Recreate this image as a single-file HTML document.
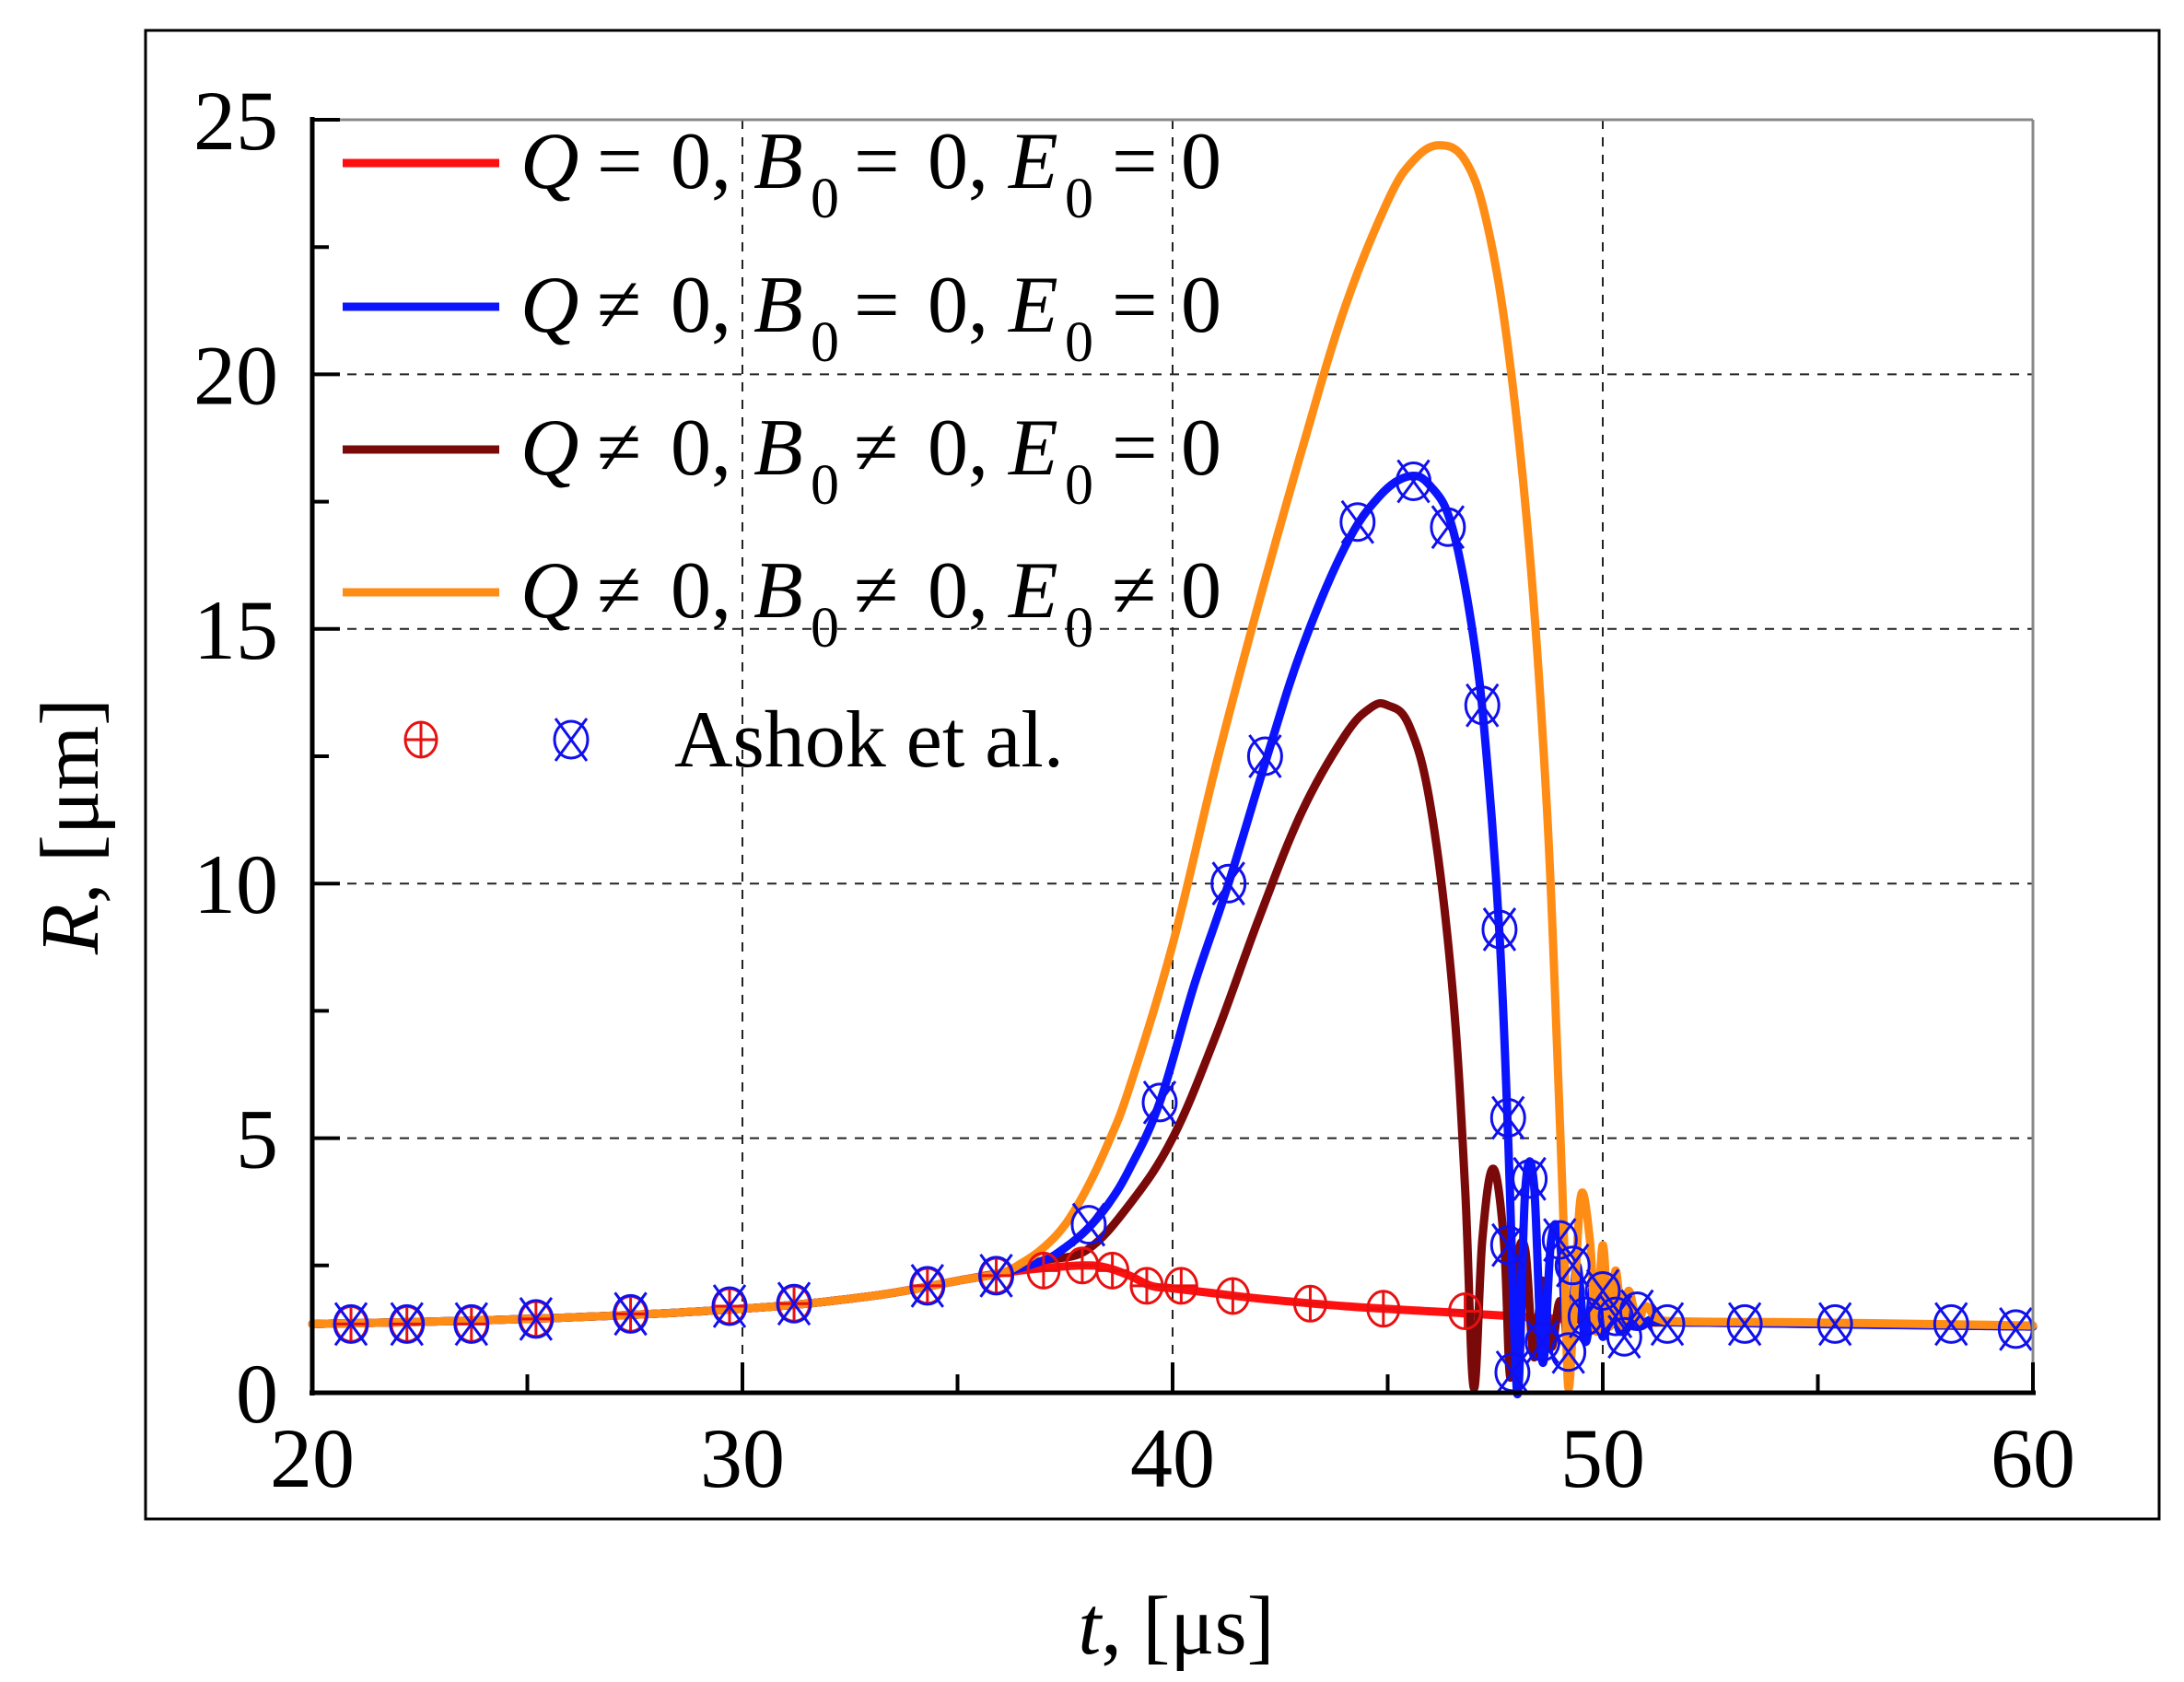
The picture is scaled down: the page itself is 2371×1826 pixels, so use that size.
<!DOCTYPE html>
<html><head><meta charset="utf-8"><style>
html,body{margin:0;padding:0;background:#fff}
svg{display:block}
text{font-family:"Liberation Serif",serif;fill:#000}
</style></head><body>
<svg id="chart" width="2371" height="1826" viewBox="0 0 2371 1826" xmlns="http://www.w3.org/2000/svg">
<rect x="158" y="33" width="2186" height="1616" fill="#fff" stroke="#000" stroke-width="3"/>
<g id="grid"></g>
<g id="series"></g>
<g id="markers"></g>
<g id="axes"></g>
<g id="legend"></g>
<text transform="translate(106,897) rotate(-90)" text-anchor="middle" font-size="90"><tspan font-style="italic">R</tspan>, [μm]</text>
<text x="1277" y="1795" text-anchor="middle" font-size="90"><tspan font-style="italic">t</tspan>, [μs]</text>
</svg>
<script>
const xTicks=[20,30,40,50,60];
const yTicks=[0,5,10,15,20,25];
const baseT=[20,25,30,33,35,36,37];
const baseR=[1.35,1.45,1.65,1.9,2.2,2.35,2.6];
const redT=[20,25,30,33,35,36,37,38,38.5,39,39.5,40,41,42,44,46,48,49,50,52,60];
const redR=[1.35,1.45,1.65,1.9,2.2,2.35,2.45,2.5,2.45,2.3,2.1,2.05,1.95,1.85,1.7,1.6,1.5,1.45,1.42,1.38,1.3];
const blueT=[37,37.5,38,38.5,39,39.7,40.5,41.3,42.2,43,44,44.8,45.5,46,46.5,47,47.3,47.6,47.8,47.95,48.05,48.2,48.4,48.6,48.8,49.0,49.2,49.4,49.6,49.8,50.0,50.2,50.4,50.6,50.8,51.2,52,60];
const blueR=[2.6,2.85,3.2,3.7,4.4,5.7,8.0,10.0,12.5,14.6,16.6,17.6,18.0,17.8,17.0,14.8,12.5,9,5,1.0,0.2,4.0,4.1,0.6,3.0,3.0,0.8,2.5,1.0,2.2,1.1,1.9,1.2,1.6,1.3,1.45,1.38,1.3];
const maroonT=[37,38,39,40,41,42,43,44,44.6,45.0,45.5,46,46.5,46.8,47.0,47.2,47.45,47.7,47.85,48.0,48.2,48.4,48.6,48.8,49.0,49.2,49.4,49.8,52,60];
const maroonR=[2.5,2.8,3.7,5.0,7.0,9.3,11.4,12.9,13.45,13.5,13.1,11.5,8,4,0.1,3.0,4.4,3.0,0.3,2.5,2.8,0.7,2.2,0.9,1.8,1.2,1.5,1.35,1.38,1.3];
const orangeT=[20,25,30,33,35,36,36.5,37,37.5,38,38.5,39,40,41,42,43,44,45,45.6,46.2,46.8,47.3,47.8,48.3,48.7,48.95,49.1,49.2,49.35,49.5,49.7,49.85,50.0,50.15,50.3,50.45,50.6,50.8,51.0,51.3,52,55,60];
const orangeR=[1.35,1.45,1.65,1.9,2.2,2.35,2.55,2.85,3.3,4.0,4.9,6.0,8.8,12.3,15.5,18.5,21.3,23.4,24.2,24.5,24.2,23.0,20.5,16.5,11.5,6.5,3,0.1,2.0,3.9,3.0,1.2,2.9,1.3,2.4,1.3,2.0,1.4,1.7,1.45,1.4,1.38,1.32];
const bothMarkT=[20.9,22.2,23.7,25.2,27.4,29.7,31.2,34.3,35.9];
const bothMarkR=[1.35,1.35,1.35,1.45,1.55,1.7,1.75,2.1,2.3];
const redMarkT=[37.0,37.9,38.6,39.4,40.2,41.4,43.2,44.9,46.8];
const redMarkR=[2.4,2.5,2.4,2.1,2.1,1.9,1.75,1.65,1.6];
const blueMarkT=[38.05,39.7,41.3,42.15,44.3,45.6,46.4,47.2,47.6,47.8,48.3,47.8,47.9,48.6,49.0,49.3,49.2,49.6,50.0,50.3,50.5,50.8,51.5,53.3,55.4,58.1,59.6];
const blueMarkR=[3.3,5.7,10.0,12.5,17.1,17.9,17.0,13.5,9.1,5.4,4.2,2.9,0.4,1.0,3.0,2.5,0.8,1.5,2.0,1.5,1.1,1.6,1.35,1.35,1.35,1.35,1.25];

const X0=339,X1=2207,Y0=1512,Y1=130;
const sx=t=>X0+(t-20)/40*(X1-X0);
const sy=r=>Y0-r/25*(Y0-Y1);
const NS='http://www.w3.org/2000/svg';
function mk(tag,parent,attrs){const e=document.createElementNS(NS,tag);for(const k in attrs)e.setAttribute(k,attrs[k]);parent.appendChild(e);return e;}
const grid=document.getElementById('grid'),series=document.getElementById('series'),markers=document.getElementById('markers'),axes=document.getElementById('axes'),legend=document.getElementById('legend');

let l=mk('line',axes,{x1:X0,y1:Y1,x2:X1,y2:Y1,stroke:'#888','stroke-width':3});


l=mk('line',axes,{x1:X1,y1:Y1,x2:X1,y2:Y0,stroke:'#888','stroke-width':3});



xTicks.slice(1,-1).forEach(t=>{const g=mk('line',grid,{x1:sx(t),y1:Y1,x2:sx(t),y2:Y0,stroke:'#222','stroke-width':2,'stroke-dasharray':'10,9'});

});
yTicks.slice(1,-1).forEach(v=>{const g=mk('line',grid,{x1:X0,y1:sy(v),x2:X1,y2:sy(v),stroke:'#222','stroke-width':2,'stroke-dasharray':'10,9'});

});

function pathD(T,R){const p=T.map((t,i)=>[sx(t),sy(R[i])]);let d='M'+p[0][0].toFixed(1)+','+p[0][1].toFixed(1);
for(let i=0;i<p.length-1;i++){const a=p[i-1]||p[i],b=p[i],c=p[i+1],e=p[i+2]||c;const k=0.18;
const c1=[b[0]+(c[0]-a[0])*k,b[1]+(c[1]-a[1])*k],c2=[c[0]-(e[0]-b[0])*k,c[1]-(e[1]-b[1])*k];
d+=' C'+c1.map(v=>v.toFixed(1))+' '+c2.map(v=>v.toFixed(1))+' '+c[0].toFixed(1)+','+c[1].toFixed(1);}return d;}
function line(T,R,col,name){const e=mk('path',series,{d:pathD(T,R),fill:'none',stroke:col,'stroke-width':9,'stroke-linejoin':'round','stroke-linecap':'round'});

}
line(redT,redR,'#ff1010','series-q0-b0-e0');
line(baseT.concat(maroonT.slice(1)),baseR.concat(maroonR.slice(1)),'#7a0a0a','series-q-b-e0');
line(baseT.concat(blueT.slice(1)),baseR.concat(blueR.slice(1)),'#0a14ff','series-q-b0-e0');
line(orangeT,orangeR,'#ff8c14','series-q-b-e');

function plusMark(x,y){const g=mk('g',markers,{stroke:'#e81010','stroke-width':3,fill:'none'});


mk('ellipse',g,{cx:x,cy:y,rx:17,ry:19});mk('line',g,{x1:x-17,y1:y,x2:x+17,y2:y});mk('line',g,{x1:x,y1:y-19,x2:x,y2:y+19});}
function crossMark(x,y){const g=mk('g',markers,{stroke:'#1010ee','stroke-width':3,fill:'none'});


mk('ellipse',g,{cx:x,cy:y,rx:18,ry:20});mk('line',g,{x1:x-17,y1:y-23,x2:x+17,y2:y+23});mk('line',g,{x1:x+17,y1:y-23,x2:x-17,y2:y+23});}
bothMarkT.forEach((t,i)=>{plusMark(sx(t),sy(bothMarkR[i]));crossMark(sx(t),sy(bothMarkR[i]));});
redMarkT.forEach((t,i)=>plusMark(sx(t),sy(redMarkR[i])));
blueMarkT.forEach((t,i)=>crossMark(sx(t),sy(blueMarkR[i])));

l=mk('line',axes,{x1:X0,y1:Y1-3,x2:X0,y2:Y0+3,stroke:'#000','stroke-width':5});


l=mk('line',axes,{x1:X0-3,y1:Y0,x2:X1+3,y2:Y0,stroke:'#000','stroke-width':5});


for(let v=0;v<=25;v+=2.5){const maj=v%5===0;const e=mk('line',axes,{x1:X0,y1:sy(v),x2:X0+(maj?30:18),y2:sy(v),stroke:'#000','stroke-width':4});

}
for(let t=20;t<=60;t+=5){const maj=t%10===0;const e=mk('line',axes,{x1:sx(t),y1:Y0,x2:sx(t),y2:Y0-(maj?33:20),stroke:'#000','stroke-width':4});

}
yTicks.forEach(v=>{const e=mk('text',axes,{x:302,y:sy(v)+32,'text-anchor':'end','font-size':92});e.textContent=String(v);

});
xTicks.forEach(t=>{const e=mk('text',axes,{x:sx(t),y:1614,'text-anchor':'middle','font-size':92});e.textContent=String(t);

});

const legRows=[['#ff1010','=','=','='],['#0a14ff','≠','=','='],['#7a0a0a','≠','≠','='],['#ff8c14','≠','≠','≠']];
const legY=[177,333,488,643];
legRows.forEach((r,i)=>{const y=legY[i];const g=mk('g',legend,{});


mk('line',g,{x1:372,y1:y,x2:542,y2:y,stroke:r[0],'stroke-width':9});
const parts=[[565,'Q','italic',88,0],[648,r[1],'normal',88,0],[728,'0,','normal',88,0],[818,'B','italic',88,0],[880,'0','normal',62,32],[927,r[2],'normal',88,0],[1007,'0,','normal',88,0],[1095,'E','italic',88,0],[1156,'0','normal',62,32],[1207,r[3],'normal',88,0],[1282,'0','normal',88,0]];
parts.forEach(p=>{const e=mk('text',g,{x:p[0],y:y+27+p[4],'font-size':p[3],'font-style':p[2]});e.textContent=p[1];});});
const ga=mk('g',legend,{});


plusMark(457,803);crossMark(620,803);
const at=mk('text',ga,{x:732,y:832,'font-size':88});at.textContent='Ashok et al.';
</script>
</body></html>
